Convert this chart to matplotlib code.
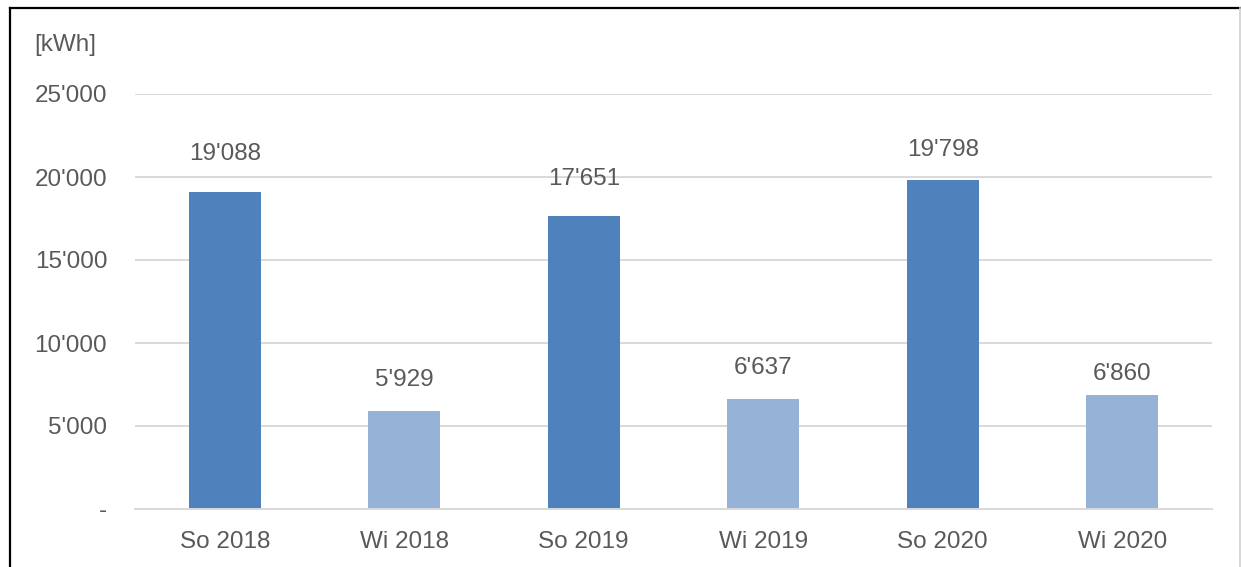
import matplotlib
matplotlib.use("Agg")
import matplotlib.pyplot as plt
from matplotlib.lines import Line2D
from matplotlib.ticker import FuncFormatter

# Energy per half-year period
categories = ["So 2018", "Wi 2018", "So 2019", "Wi 2019", "So 2020", "Wi 2020"]
values = [19088, 5929, 17651, 6637, 19798, 6860]
y_ticks = [0, 5000, 10000, 15000, 20000, 25000]
unit_label = "[kWh]"

summer_color = "#4F81BD"
winter_color = "#95B3D7"
text_color = "#595959"
grid_color = "#D9D9D9"
font_size = 17.5

# label offsets above bar tops (pixels)
label_offsets = [38, 31, 37, 31, 30, 21]

plt.rcParams["font.family"] = ["Liberation Sans", "DejaVu Sans"]

W, H, DPI = 1241, 567, 100
fig = plt.figure(figsize=(W / DPI, H / DPI), dpi=DPI)
ax = fig.add_axes([135 / W, 1 - 509 / H, (1212 - 135) / W, (509 - 94) / H])

colors = [summer_color if c.startswith("So") else winter_color for c in categories]
x = list(range(len(categories)))
bars = ax.bar(x, values, width=0.4, color=colors, zorder=3)

ax.set_xlim(-0.5, len(categories) - 0.5)
ax.set_ylim(0, 25000)
ax.set_yticks(y_ticks)


def fmt(v, _pos=None):
    if v == 0:
        return "-"
    return f"{int(v):,}".replace(",", "'")


ax.yaxis.set_major_formatter(FuncFormatter(fmt))
ax.set_xticks(x)
ax.set_xticklabels(categories)

ax.grid(axis="y", color=grid_color, linewidth=1.4, zorder=0)
for s in ["top", "right", "left"]:
    ax.spines[s].set_visible(False)
ax.spines["bottom"].set_color(grid_color)
ax.spines["bottom"].set_linewidth(1.4)
ax.spines["bottom"].set_zorder(4)

ax.tick_params(axis="y", length=0, pad=20, labelsize=font_size, labelcolor=text_color)
ax.tick_params(axis="x", length=0, pad=16, labelsize=font_size, labelcolor=text_color)

for xi, v, off in zip(x, values, label_offsets):
    ax.annotate(fmt(v), xy=(xi, v), xytext=(0, off), textcoords="offset pixels",
                ha="center", va="center", fontsize=font_size, color=text_color)

fig.text(34 / W, 1 - 45 / H, unit_label, ha="left", va="center",
         fontsize=font_size, color=text_color)

# frame lines
fig.add_artist(Line2D([10 / W, 10 / W], [0, 1 - 8 / H], color="black", linewidth=1.6,
                      transform=fig.transFigure))
fig.add_artist(Line2D([10 / W, 1240 / W], [1 - 8 / H, 1 - 8 / H], color="black",
                      linewidth=1.6, transform=fig.transFigure))
fig.add_artist(Line2D([1240 / W, 1240 / W], [0, 1 - 8 / H], color="#D0D0D0",
                      linewidth=1.2, transform=fig.transFigure))

fig.savefig("out.png", dpi=DPI, facecolor="white")
